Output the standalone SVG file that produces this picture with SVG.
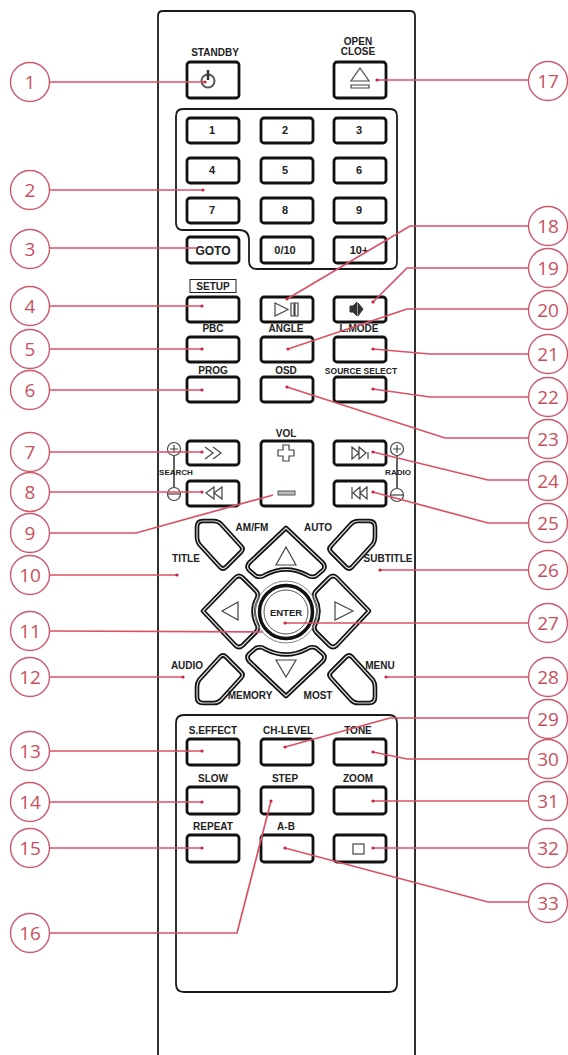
<svg xmlns="http://www.w3.org/2000/svg" width="568" height="1055" viewBox="0 0 568 1055">
<style>
text{font-family:"Liberation Sans",Arial,sans-serif;text-anchor:middle}
.b{fill:#fff;stroke:#111;stroke-width:2.8}
.o{fill:none;stroke:#1a1a1a;stroke-width:1.8}
.t{font-size:10px;font-weight:700;fill:#222}
.n{font-size:11px;font-weight:700;fill:#222}
.g{fill:none;stroke:#444;stroke-width:1.2}
.d1{fill:#fff;stroke:#111;stroke-width:4.6;stroke-linejoin:round}
.d2{fill:none;stroke:#ddd;stroke-width:1.2;stroke-linejoin:round}
.l{fill:none;stroke:#dc5066;stroke-width:1.7}
.p{fill:#c8243c}
.c{fill:#fff;stroke:#cc5a6c;stroke-width:1.4}
.cn{font-family:"Open Sans","Noto Sans",sans-serif;font-size:19px;fill:#c8505e}
</style>
<g id="remote-body">
<path class="o" d="M158 1055V16q0-5 5-5H410q5 0 5 5V1055"/>
<path class="o" d="M176 116q0-7 7-7H390q7 0 7 7V262q0 7-7 7H257q-8 0-8-8V240q0-10-10-10H183q-7 0-7-7Z"/>
<path class="o" d="M176 723q0-8 8-8H389q8 0 8 8V984q0 8-8 8H184q-8 0-8-8Z"/>
</g>
<g id="btn-standby"><text class="t" x="215" y="56">STANDBY</text><rect class="b" x="187" y="62" width="52" height="36" rx="3"/><circle cx="208" cy="81" r="6.500" fill="none" stroke="#555" stroke-width="2"/><path d="M208 70v10" stroke="#333" stroke-width="2.500"/></g>
<g id="btn-open"><text class="t" x="358" y="45">OPEN</text><text class="t" x="358" y="55">CLOSE</text><rect class="b" x="334" y="62" width="52" height="36" rx="3"/><path class="g" d="M360 68l9 13h-18ZM351 85h18v3h-18Z"/></g>
<g id="btn-1"><rect class="b" x="187" y="118" width="52" height="25" rx="3"/><text class="n" x="212" y="134">1</text></g>
<g id="btn-2"><rect class="b" x="261" y="118" width="52" height="25" rx="3"/><text class="n" x="285" y="134">2</text></g>
<g id="btn-3"><rect class="b" x="334" y="118" width="52" height="25" rx="3"/><text class="n" x="359" y="134">3</text></g>
<g id="btn-4"><rect class="b" x="187" y="158" width="52" height="25" rx="3"/><text class="n" x="212" y="174">4</text></g>
<g id="btn-5"><rect class="b" x="261" y="158" width="52" height="25" rx="3"/><text class="n" x="285" y="174">5</text></g>
<g id="btn-6"><rect class="b" x="334" y="158" width="52" height="25" rx="3"/><text class="n" x="359" y="174">6</text></g>
<g id="btn-7"><rect class="b" x="187" y="198" width="52" height="25" rx="3"/><text class="n" x="212" y="214">7</text></g>
<g id="btn-8"><rect class="b" x="261" y="198" width="52" height="25" rx="3"/><text class="n" x="285" y="214">8</text></g>
<g id="btn-9"><rect class="b" x="334" y="198" width="52" height="25" rx="3"/><text class="n" x="359" y="214">9</text></g>
<g id="btn-goto"><rect class="b" x="187" y="237" width="52" height="26" rx="3"/><text class="n" x="213" y="255" style="font-size:12px">GOTO</text></g>
<g id="btn-010"><rect class="b" x="261" y="237" width="52" height="26" rx="3"/><text class="n" x="285" y="254">0/10</text></g>
<g id="btn-10plus"><rect class="b" x="334" y="237" width="52" height="26" rx="3"/><text class="n" x="359" y="254">10+</text></g>
<g id="btn-setup"><rect x="190" y="279.500" width="46" height="13" fill="#fff" stroke="#222" stroke-width="1"/><text class="t" x="213" y="290">SETUP</text><rect class="b" x="187" y="297" width="52" height="25" rx="3"/></g>
<g id="btn-play"><rect class="b" x="261" y="297" width="52" height="25" rx="3"/><path class="g" d="M275 303l13 6.500-13 6.500ZM291 303h3v13h-3ZM295 303h3v13h-3Z"/></g>
<g id="btn-mute"><rect class="b" x="334" y="297" width="52" height="25" rx="3"/><path d="M350 306h3l4-4v14l-4-4h-3ZM358 303l5 6-5 7" fill="#333" stroke="#333"/></g>
<g id="btn-pbc"><text class="t" x="213" y="332">PBC</text><rect class="b" x="187" y="337" width="52" height="25" rx="3"/></g>
<g id="btn-angle"><text class="t" x="286" y="332">ANGLE</text><rect class="b" x="261" y="337" width="52" height="25" rx="3"/></g>
<g id="btn-lmode"><text class="t" x="359" y="332">L.MODE</text><rect class="b" x="334" y="337" width="52" height="25" rx="3"/></g>
<g id="btn-prog"><text class="t" x="213" y="374">PROG</text><rect class="b" x="187" y="377" width="52" height="25" rx="3"/></g>
<g id="btn-osd"><text class="t" x="286" y="374">OSD</text><rect class="b" x="261" y="377" width="52" height="25" rx="3"/></g>
<g id="btn-source"><text class="t" x="361" y="374" style="font-size:8.500px">SOURCE SELECT</text><rect class="b" x="334" y="377" width="52" height="25" rx="3"/></g>
<g id="btn-search-fwd"><rect class="b" x="187" y="441" width="52" height="24" rx="3"/><path class="g" d="M205 447l8 6-8 6M213 447l8 6-8 6"/></g>
<g id="btn-search-back"><rect class="b" x="187" y="481" width="52" height="25" rx="3"/><path class="g" d="M214 487l-8 6 8 6ZM222 487l-8 6 8 6Z"/></g>
<g id="search-key"><circle class="g" cx="174" cy="449" r="6.500"/><path class="g" d="M170 449h8M174 445v8"/><circle class="g" cx="174" cy="494" r="6.500"/><path class="g" d="M168 494h12"/><path d="M174 456v31" stroke="#222" stroke-width="1.400"/><text class="t" x="176" y="475" style="font-size:8px">SEARCH</text></g>
<g id="btn-vol"><text class="t" x="286" y="437">VOL</text><rect class="b" x="261" y="441" width="52" height="65" rx="3"/><path class="g" d="M283 445h6v5h5v6h-5v5h-6v-5h-5v-6h5Z"/><rect x="278" y="491" width="17" height="4" fill="#bbb" stroke="#555"/></g>
<g id="btn-next"><rect class="b" x="334" y="441" width="52" height="24" rx="3"/><path class="g" d="M352 447l7 6-7 6ZM359 447l7 6-7 6ZM368 452v7"/></g>
<g id="btn-prev"><rect class="b" x="334" y="481" width="52" height="25" rx="3"/><path class="g" d="M352 487v12M360 487l-7 6 7 6ZM367 487l-7 6 7 6Z"/></g>
<g id="radio-key"><circle class="g" cx="397" cy="449" r="6.500"/><path class="g" d="M393 449h8M397 445v8"/><circle class="g" cx="397" cy="495" r="6.500"/><path class="g" d="M391 495h12"/><path d="M397 456v32" stroke="#222" stroke-width="1.400"/><text class="t" x="398" y="475" style="font-size:8px">RADIO</text></g>
<g id="btn-amfm"><path class="d1" d="M197 527Q197 521 203 521H214Q218 521 221 524L241 546Q244 549 241 552L226 567Q223 570 220 567L199 544Q197 541 197 537Z"/><path class="d2" d="M197 527Q197 521 203 521H214Q218 521 221 524L241 546Q244 549 241 552L226 567Q223 570 220 567L199 544Q197 541 197 537Z"/><text class="t" x="252" y="531">AM/FM</text></g>
<g id="btn-auto"><path class="d1" d="M375 527Q375 521 369 521H358Q354 521 351 524L331 546Q328 549 331 552L346 567Q349 570 352 567L373 544Q375 541 375 537Z"/><path class="d2" d="M375 527Q375 521 369 521H358Q354 521 351 524L331 546Q328 549 331 552L346 567Q349 570 352 567L373 544Q375 541 375 537Z"/><text class="t" x="318" y="531">AUTO</text></g>
<g id="btn-audio"><path class="d1" d="M197 697Q197 703 203 703H214Q218 703 221 700L241 678Q244 675 241 672L226 657Q223 654 220 657L199 680Q197 683 197 687Z"/><path class="d2" d="M197 697Q197 703 203 703H214Q218 703 221 700L241 678Q244 675 241 672L226 657Q223 654 220 657L199 680Q197 683 197 687Z"/><text class="t" x="187" y="669">AUDIO</text></g>
<g id="btn-menu"><path class="d1" d="M375 697Q375 703 369 703H358Q354 703 351 700L331 678Q328 675 331 672L346 657Q349 654 352 657L373 680Q375 683 375 687Z"/><path class="d2" d="M375 697Q375 703 369 703H358Q354 703 351 700L331 678Q328 675 331 672L346 657Q349 654 352 657L373 680Q375 683 375 687Z"/><text class="t" x="380" y="669">MENU</text></g>
<g id="label-title"><text class="t" x="186" y="562">TITLE</text></g>
<g id="label-subtitle"><text class="t" x="388" y="562">SUBTITLE</text></g>
<g id="label-memory"><text class="t" x="250" y="699">MEMORY</text></g>
<g id="label-most"><text class="t" x="318" y="699">MOST</text></g>
<g id="btn-up"><path class="d1" d="M286 528L323 563Q326 567 323 570L316 576Q311 578 307 575Q286 564 265 575Q261 578 256 576L249 570Q246 567 249 563Z"/><path class="d2" d="M286 528L323 563Q326 567 323 570L316 576Q311 578 307 575Q286 564 265 575Q261 578 256 576L249 570Q246 567 249 563Z"/><path class="g" d="M286 547l10 18h-20Z"/></g>
<g id="btn-down"><path class="d1" d="M286 696L323 661Q326 657 323 654L316 648Q311 646 307 649Q286 660 265 649Q261 646 256 648L249 654Q246 657 249 661Z"/><path class="d2" d="M286 696L323 661Q326 657 323 654L316 648Q311 646 307 649Q286 660 265 649Q261 646 256 648L249 654Q246 657 249 661Z"/><path class="g" d="M286 677l10-17h-20Z"/></g>
<g id="btn-left"><path class="d1" d="M203 611L235 578Q239 574 243 578L256 591Q259 594 257 598Q250 611 257 625Q259 629 256 632L243 645Q239 649 235 645Z"/><path class="d2" d="M203 611L235 578Q239 574 243 578L256 591Q259 594 257 598Q250 611 257 625Q259 629 256 632L243 645Q239 649 235 645Z"/><path class="g" d="M222 611l16-9v18Z"/></g>
<g id="btn-right"><path class="d1" d="M369 611L337 578Q333 574 329 578L316 591Q313 594 315 598Q322 611 315 625Q313 629 316 632L329 645Q333 649 337 645Z"/><path class="d2" d="M369 611L337 578Q333 574 329 578L316 591Q313 594 315 598Q322 611 315 625Q313 629 316 632L329 645Q333 649 337 645Z"/><path class="g" d="M353 611l-18-9v18Z"/></g>
<g id="btn-enter"><circle cx="286" cy="612" r="31" fill="none" stroke="#888" stroke-width="1"/><circle cx="286" cy="612" r="26.500" fill="#fff" stroke="#111" stroke-width="3.500"/><circle cx="286" cy="612" r="22" fill="none" stroke="#555" stroke-width="1"/><text class="t" x="286" y="616" style="font-size:9.500px">ENTER</text></g>
<g id="btn-effect"><text class="t" x="213" y="734">S.EFFECT</text><rect class="b" x="187" y="739" width="52" height="26" rx="3"/></g>
<g id="btn-chlevel"><text class="t" x="288" y="734">CH-LEVEL</text><rect class="b" x="261" y="739" width="52" height="26" rx="3"/></g>
<g id="btn-tone"><text class="t" x="358" y="734">TONE</text><rect class="b" x="334" y="739" width="52" height="26" rx="3"/></g>
<g id="btn-slow"><text class="t" x="213" y="782">SLOW</text><rect class="b" x="187" y="787" width="52" height="27" rx="3"/></g>
<g id="btn-step"><text class="t" x="285" y="782">STEP</text><rect class="b" x="261" y="787" width="52" height="27" rx="3"/></g>
<g id="btn-zoom"><text class="t" x="358" y="782">ZOOM</text><rect class="b" x="334" y="787" width="52" height="27" rx="3"/></g>
<g id="btn-repeat"><text class="t" x="213" y="830">REPEAT</text><rect class="b" x="187" y="835" width="52" height="27" rx="3"/></g>
<g id="btn-ab"><text class="t" x="286" y="830">A-B</text><rect class="b" x="261" y="835" width="52" height="27" rx="3"/></g>
<g id="btn-stop"><rect class="b" x="334" y="835" width="52" height="27" rx="3"/><rect class="g" x="353" y="844" width="11" height="10"/></g>
<g id="connectors">
<path class="l" d="M50 82H205"/><path class="l" d="M50 190H203"/><path class="l" d="M50 248H197"/><path class="l" d="M50 306H202"/><path class="l" d="M50 349H202"/><path class="l" d="M50 390H202"/><path class="l" d="M50 452H202"/><path class="l" d="M50 492H202"/><path class="l" d="M50 533H136L273 495"/><path class="l" d="M50 575H177"/><path class="l" d="M50 631L263 632"/><path class="l" d="M50 677H183"/><path class="l" d="M50 751H202"/><path class="l" d="M50 802H202"/><path class="l" d="M50 848H202"/><path class="l" d="M50 933H237L271 801"/>
<path class="l" d="M529 80H377"/><path class="l" d="M529 226H410L287 299"/><path class="l" d="M529 268H407L373 302"/><path class="l" d="M529 309H407L288 349"/><path class="l" d="M529 354H430L373 349"/><path class="l" d="M529 397H430L373 389"/><path class="l" d="M529 438H445L287 387"/><path class="l" d="M529 480H488L373 452"/><path class="l" d="M529 523H488L373 492"/><path class="l" d="M529 570H380"/><path class="l" d="M529 623H285"/><path class="l" d="M529 677H386"/><path class="l" d="M529 718H390L285 747"/><path class="l" d="M529 759H407L373 752"/><path class="l" d="M529 801H373"/><path class="l" d="M529 848H373"/><path class="l" d="M529 902H488L285 848"/>
<g class="p"><circle cx="205" cy="82" r="1.600"/><circle cx="203" cy="190" r="1.600"/><circle cx="202" cy="306" r="1.600"/><circle cx="202" cy="349" r="1.600"/><circle cx="202" cy="390" r="1.600"/><circle cx="202" cy="452" r="1.600"/><circle cx="202" cy="492" r="1.600"/><circle cx="177" cy="575" r="1.600"/><circle cx="183" cy="677" r="1.600"/><circle cx="202" cy="751" r="1.600"/><circle cx="202" cy="802" r="1.600"/><circle cx="202" cy="848" r="1.600"/><circle cx="271" cy="801" r="1.600"/><circle cx="377" cy="80" r="1.600"/><circle cx="287" cy="299" r="1.600"/><circle cx="373" cy="302" r="1.600"/><circle cx="288" cy="349" r="1.600"/><circle cx="373" cy="349" r="1.600"/><circle cx="373" cy="389" r="1.600"/><circle cx="287" cy="387" r="1.600"/><circle cx="373" cy="452" r="1.600"/><circle cx="373" cy="492" r="1.600"/><circle cx="380" cy="570" r="1.600"/><circle cx="285" cy="623" r="1.600"/><circle cx="386" cy="677" r="1.600"/><circle cx="285" cy="747" r="1.600"/><circle cx="373" cy="752" r="1.600"/><circle cx="373" cy="801" r="1.600"/><circle cx="373" cy="848" r="1.600"/><circle cx="285" cy="848" r="1.600"/></g>
</g>
<g id="callout-1"><circle class="c" cx="30" cy="82" r="19.500"/><text class="cn" x="30" y="89">1</text></g>
<g id="callout-2"><circle class="c" cx="30" cy="190" r="19.500"/><text class="cn" x="30" y="197">2</text></g>
<g id="callout-3"><circle class="c" cx="30" cy="249" r="19.500"/><text class="cn" x="30" y="256">3</text></g>
<g id="callout-4"><circle class="c" cx="30" cy="306" r="19.500"/><text class="cn" x="30" y="313">4</text></g>
<g id="callout-5"><circle class="c" cx="30" cy="349" r="19.500"/><text class="cn" x="30" y="356">5</text></g>
<g id="callout-6"><circle class="c" cx="30" cy="390" r="19.500"/><text class="cn" x="30" y="397">6</text></g>
<g id="callout-7"><circle class="c" cx="30" cy="452" r="19.500"/><text class="cn" x="30" y="459">7</text></g>
<g id="callout-8"><circle class="c" cx="30" cy="492" r="19.500"/><text class="cn" x="30" y="499">8</text></g>
<g id="callout-9"><circle class="c" cx="30" cy="533" r="19.500"/><text class="cn" x="30" y="540">9</text></g>
<g id="callout-10"><circle class="c" cx="30" cy="575" r="19.500"/><text class="cn" x="30" y="582">10</text></g>
<g id="callout-11"><circle class="c" cx="30" cy="631" r="19.500"/><text class="cn" x="30" y="638">11</text></g>
<g id="callout-12"><circle class="c" cx="30" cy="677" r="19.500"/><text class="cn" x="30" y="684">12</text></g>
<g id="callout-13"><circle class="c" cx="30" cy="751" r="19.500"/><text class="cn" x="30" y="758">13</text></g>
<g id="callout-14"><circle class="c" cx="30" cy="802" r="19.500"/><text class="cn" x="30" y="809">14</text></g>
<g id="callout-15"><circle class="c" cx="30" cy="848" r="19.500"/><text class="cn" x="30" y="855">15</text></g>
<g id="callout-16"><circle class="c" cx="30" cy="933" r="19.500"/><text class="cn" x="30" y="940">16</text></g>
<g id="callout-17"><circle class="c" cx="548" cy="81" r="19.500"/><text class="cn" x="548" y="88">17</text></g>
<g id="callout-18"><circle class="c" cx="548" cy="226" r="19.500"/><text class="cn" x="548" y="233">18</text></g>
<g id="callout-19"><circle class="c" cx="548" cy="268" r="19.500"/><text class="cn" x="548" y="275">19</text></g>
<g id="callout-20"><circle class="c" cx="548" cy="310" r="19.500"/><text class="cn" x="548" y="317">20</text></g>
<g id="callout-21"><circle class="c" cx="548" cy="354" r="19.500"/><text class="cn" x="548" y="361">21</text></g>
<g id="callout-22"><circle class="c" cx="548" cy="397" r="19.500"/><text class="cn" x="548" y="404">22</text></g>
<g id="callout-23"><circle class="c" cx="548" cy="439" r="19.500"/><text class="cn" x="548" y="446">23</text></g>
<g id="callout-24"><circle class="c" cx="548" cy="481" r="19.500"/><text class="cn" x="548" y="488">24</text></g>
<g id="callout-25"><circle class="c" cx="548" cy="523" r="19.500"/><text class="cn" x="548" y="530">25</text></g>
<g id="callout-26"><circle class="c" cx="548" cy="570" r="19.500"/><text class="cn" x="548" y="577">26</text></g>
<g id="callout-27"><circle class="c" cx="548" cy="623" r="19.500"/><text class="cn" x="548" y="630">27</text></g>
<g id="callout-28"><circle class="c" cx="548" cy="677" r="19.500"/><text class="cn" x="548" y="684">28</text></g>
<g id="callout-29"><circle class="c" cx="548" cy="719" r="19.500"/><text class="cn" x="548" y="726">29</text></g>
<g id="callout-30"><circle class="c" cx="548" cy="759" r="19.500"/><text class="cn" x="548" y="766">30</text></g>
<g id="callout-31"><circle class="c" cx="548" cy="801" r="19.500"/><text class="cn" x="548" y="808">31</text></g>
<g id="callout-32"><circle class="c" cx="548" cy="848" r="19.500"/><text class="cn" x="548" y="855">32</text></g>
<g id="callout-33"><circle class="c" cx="548" cy="903" r="19.500"/><text class="cn" x="548" y="910">33</text></g>
</svg>
